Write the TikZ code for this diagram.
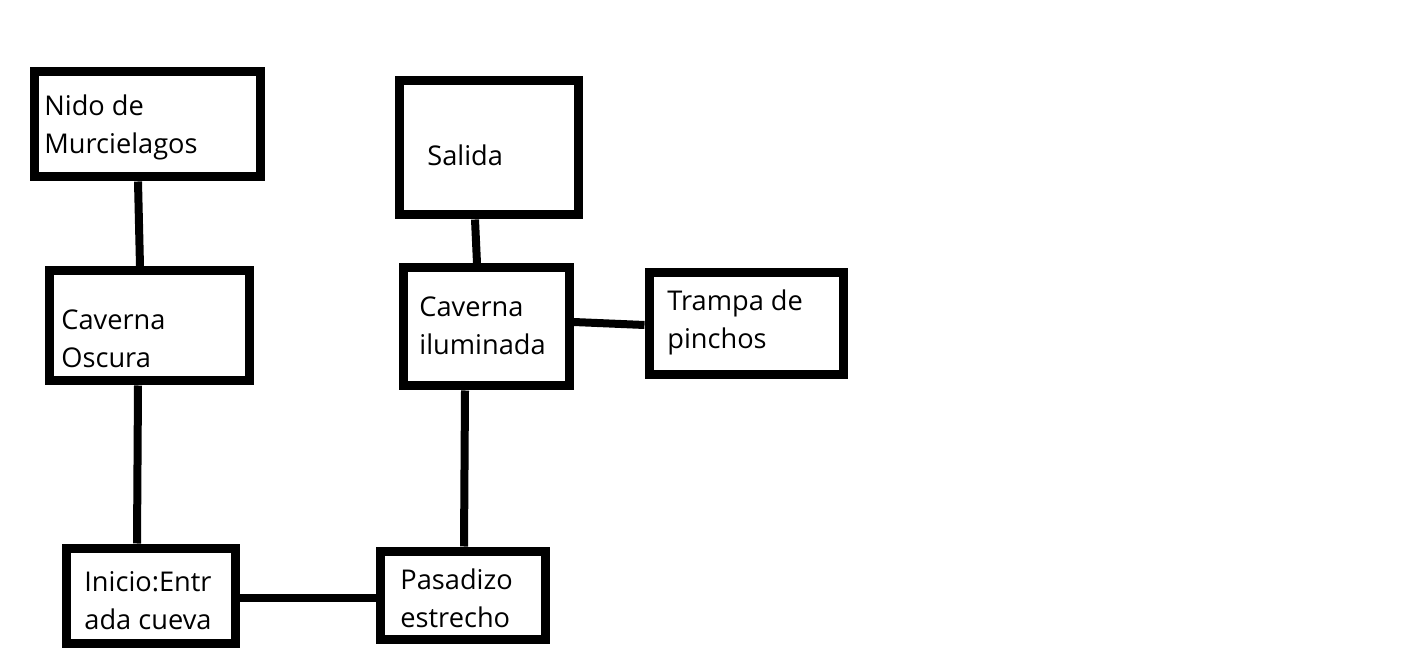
\documentclass[tikz,border=0pt]{standalone}
\usepackage{fontspec}
\setmainfont{Open Sans}
\begin{document}
\begin{tikzpicture}[x=0.5pt,y=-0.5pt,
  box/.style={draw=black,line width=4.5pt,rectangle,inner sep=0pt},
  lbl/.style={anchor=west,align=left,inner sep=0pt,font=\fontsize{13.6pt}{19pt}\selectfont},
  link/.style={line width=4pt,draw=black}]
\fill[white] (0,0) rectangle (1416,672);
\path[use as bounding box] (0,0) rectangle (1416,672);
% boxes (centerlines)
\node[box,minimum width=113pt,minimum height=52.5pt] (nido) at (147,124.5) {};
\node[box,minimum width=89.5pt,minimum height=67pt] (salida) at (488.5,148) {};
\node[box,minimum width=100pt,minimum height=55pt] (oscura) at (149,326) {};
\node[box,minimum width=83pt,minimum height=59pt] (ilum) at (486,327) {};
\node[box,minimum width=97pt,minimum height=51pt] (trampa) at (746,324) {};
\node[box,minimum width=84.5pt,minimum height=47.5pt] (inicio) at (150.5,595.5) {};
\node[box,minimum width=82.5pt,minimum height=44pt] (pasa) at (462.5,595) {};
% labels
\node[lbl] (tnido) at (44,127) {Nido de\\Murcielagos};
\node[lbl] (tsalida) at (427,155) {Salida};
\node[lbl] (toscura) at (61,339) {Caverna\\Oscura};
\node[lbl] (tilum) at (419,326) {Caverna\\iluminada};
\node[lbl] (ttrampa) at (667,322) {Trampa de\\pinchos};
\node[lbl] (tinicio) at (84,601) {Inicio:Entr\\ada cueva};
\node[lbl] (tpasa) at (400,598) {Pasadizo\\estrecho};
% connectors
\draw[link] (138,0 |- nido.south) -- (140,0 |- oscura.north);
\draw[link] (138,0 |- oscura.south) -- (137,0 |- inicio.north);
\draw[link] (0,598 -| inicio.east) -- (0,598 -| pasa.west);
\draw[link] (464,0 |- pasa.north) -- (465,0 |- ilum.south);
\draw[link] (477,0 |- ilum.north) -- (475,0 |- salida.south);
\draw[link] (0,322 -| ilum.east) -- (0,325 -| trampa.west);
\end{tikzpicture}
\end{document}
